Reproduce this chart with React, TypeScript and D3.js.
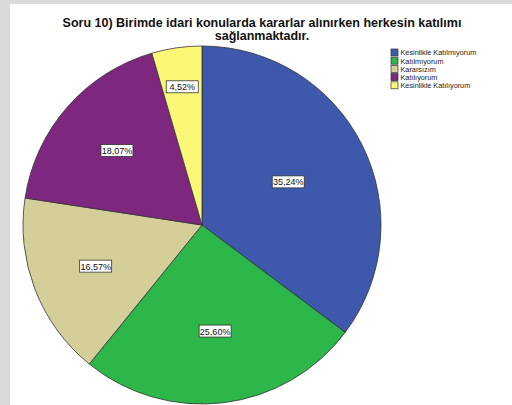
import React, { useEffect, useRef } from 'react';
import * as d3 from 'd3';

const categories = [
  'Kesinlikle Katılmıyorum',
  'Katılmıyorum',
  'Kararsızım',
  'Katılıyorum',
  'Kesinlikle Katılıyorum',
];
const percents = [35.24, 25.6, 16.57, 18.07, 4.52];
const colors = ['#3e59ab', '#2db74a', '#d4cf99', '#7d287e', '#fbf878'];
const titleLines = [
  'Soru 10) Birimde idari konularda kararlar alınırken herkesin katılımı',
  'sağlanmaktadır.',
];

const width = 512,
  height = 405;

const App = () => {
  const ref = useRef<SVGSVGElement>(null);

  useEffect(() => {
    const svg = d3.select(ref.current);
    svg.selectAll('*').remove();

    // gray frame + white plot area
    svg.append('rect').attr('width', width).attr('height', height).attr('fill', '#d9d9d9');
    svg.append('rect').attr('x', 10).attr('y', 4).attr('width', width - 10).attr('height', height - 4).attr('fill', '#fff');

    svg.append('text')
      .attr('x', 262)
      .attr('y', 27)
      .attr('text-anchor', 'middle')
      .attr('font-family', 'Liberation Sans, Arial, sans-serif')
      .attr('font-weight', 'bold')
      .attr('font-size', 12.5)
      .attr('fill', '#111')
      .selectAll('tspan')
      .data(titleLines)
      .enter()
      .append('tspan')
      .attr('x', 262)
      .attr('dy', (d, i) => (i === 0 ? 0 : 13))
      .text((d) => d);

    const cx = 202, cy = 225, radius = 179;
    const g = svg.append('g').attr('transform', `translate(${cx},${cy})`);

    const data = categories.map((c, i) => ({ name: c, value: percents[i], color: colors[i] }));
    const pie = d3.pie<any>().sort(null).value((d) => d.value);
    const arc = d3.arc<any>().innerRadius(0).outerRadius(radius);
    const arcs = pie(data);

    g.selectAll('path')
      .data(arcs)
      .enter()
      .append('path')
      .attr('d', arc)
      .attr('fill', (d) => d.data.color)
      .attr('stroke', '#333')
      .attr('stroke-width', 0.8);

    // label at the sector's centroid, pushed outward for thin slices
    const labelPos = (d: any) => {
      const half = (d.endAngle - d.startAngle) / 2;
      let dist = (2 * radius * Math.sin(half)) / (3 * half);
      if (d.data.value < 10) dist = Math.max(dist, radius * 0.78);
      const a = (d.startAngle + d.endAngle) / 2;
      return [Math.sin(a) * dist, -Math.cos(a) * dist];
    };

    const labels = g.selectAll('.lbl')
      .data(arcs)
      .enter()
      .append('g')
      .attr('class', 'lbl')
      .attr('transform', (d) => `translate(${labelPos(d)})`);

    labels.append('rect')
      .attr('x', -16)
      .attr('y', -6)
      .attr('width', 32)
      .attr('height', 12)
      .attr('fill', '#fff')
      .attr('stroke', '#333')
      .attr('stroke-width', 0.8);

    labels.append('text')
      .attr('text-anchor', 'middle')
      .attr('y', 3.5)
      .attr('font-family', 'Liberation Sans, Arial, sans-serif')
      .attr('font-size', 9)
      .attr('fill', '#111')
      .text((d) => d.data.value.toFixed(2).replace('.', ',') + '%');

    // legend
    const legend = svg.append('g').attr('transform', 'translate(391,49)');
    const items = legend.selectAll('g')
      .data(data)
      .enter()
      .append('g')
      .attr('transform', (d, i) => `translate(0,${i * 8.2})`);
    items.append('rect')
      .attr('width', 7)
      .attr('height', 7)
      .attr('fill', (d) => d.color)
      .attr('stroke', '#333')
      .attr('stroke-width', 0.7);
    items.append('text')
      .attr('x', 9.5)
      .attr('y', 6.3)
      .attr('font-family', 'Liberation Sans, Arial, sans-serif')
      .attr('font-size', 7.3)
      .attr('fill', '#222')
      .text((d) => d.name);
  }, []);

  return (
    <svg
      ref={ref}
      width={width}
      height={height}
      style={{ position: 'absolute', left: 0, top: 0 }}
    />
  );
};

export default App;
